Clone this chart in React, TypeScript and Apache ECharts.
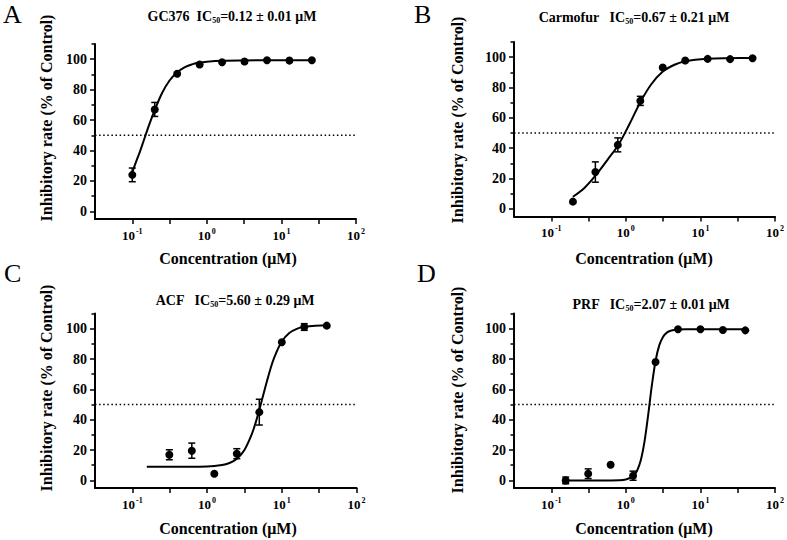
import React, { useEffect, useRef } from "react";
import * as echarts from "echarts";

// ---------- axis values ----------
const X_MIN = 0.031622776601683794; // 10^-1.5
const X_MAX = 100;
const xTickValues = [0.1, 0.31622776601683794, 1, 3.1622776601683795, 10, 31.622776601683793, 100];
const xLabelValues = [0.1, 1, 10, 100];
const yMajorValues = [0, 20, 40, 60, 80, 100];
const yMinorValues = [10, 30, 50, 70, 90, 110];
const halfInhibition = 50;

// ---------- texts ----------
const panelLetters = ["A", "B", "C", "D"];
const drugNames = ["GC376  ", "Carmofur   ", "ACF   ", "PRF   "];
const ic50Texts = ["=0.12 ± 0.01 μM", "=0.67 ± 0.21 μM", "=5.60 ± 0.29 μM", "=2.07 ± 0.01 μM"];
const yAxisName = "Inhibitory rate (% of Control)";
const xAxisName = "Concentration (μM)";

// ---------- Panel A: GC376 ----------
const concA = [0.1, 0.2, 0.4, 0.8, 1.6, 3.2, 6.4, 12.8, 25.6];
const meanA = [24, 67, 90.5, 96.5, 98, 98.5, 99.3, 99.1, 99.3];
const errA = [4.5, 4.6, 0, 0, 0, 0, 0, 0, 0];
const fitXA = [0.1, 0.112, 0.126, 0.141, 0.158, 0.178, 0.2, 0.251, 0.316, 0.398, 0.501, 0.631, 0.794, 1, 1.585, 3.162, 10, 25.6];
const fitYA = [25.8, 32.4, 38.9, 45.9, 53.1, 60.1, 66.6, 77.8, 86.0, 91.3, 94.7, 96.6, 97.8, 98.4, 99.0, 99.2, 99.3, 99.3];

// ---------- Panel B: Carmofur ----------
const concB = [0.195, 0.39, 0.78, 1.5625, 3.125, 6.25, 12.5, 25, 50];
const meanB = [4.8, 24.3, 42.2, 71.2, 93.2, 97.8, 98.9, 98.7, 99.3];
const errB = [0, 6.7, 4.6, 3, 0, 0, 0, 0, 0];
const fitXB = [0.195, 0.28, 0.4, 0.57, 0.8, 1.12, 1.57, 2.18, 3.13, 4.49, 6.3, 12.5, 25, 50];
const fitYB = [8, 14, 22.5, 32.5, 42.5, 56, 70.5, 82, 90.5, 95, 97.3, 98.9, 99.3, 99.5];

// ---------- Panel C: ACF ----------
const concC = [0.3125, 0.625, 1.25, 2.5, 5, 10, 20, 40];
const meanC = [16.9, 19.6, 4.4, 17.6, 45, 91, 101.1, 102];
const errC = [3.3, 5, 0, 3.3, 8.5, 0, 2.2, 0];
const fitXC = [0.156, 0.316, 1, 1.585, 1.995, 2.512, 3.162, 3.981, 4.467, 5.012, 5.623, 6.31, 7.079, 7.943, 10, 12.59, 15.85, 19.95, 28.18, 40];
const fitYC = [9.0, 9.0, 9.2, 10.1, 11.5, 14.3, 20.1, 30.7, 38.1, 46.7, 56.0, 65.2, 73.8, 81.1, 91.5, 97.1, 99.9, 101.2, 102.0, 102.2];

// ---------- Panel D: PRF ----------
const concD = [0.156, 0.3125, 0.625, 1.25, 2.5, 5, 10, 20, 40];
const meanD = [0, 4.4, 10.3, 3.1, 78, 99.6, 99.6, 99.1, 98.9];
const errD = [2.2, 3.2, 0, 3, 0, 0, 0, 0, 0];
const fitXD = [0.156, 0.316, 0.631, 1, 1.259, 1.413, 1.585, 1.778, 1.995, 2.239, 2.512, 2.818, 3.162, 3.548, 3.981, 5.012, 6.31, 10, 19.95, 40];
const fitYD = [0, 0, 0, 0.6, 3.0, 6.4, 13.3, 25.6, 43.4, 63.1, 79.2, 89.3, 94.7, 97.4, 98.6, 99.4, 99.6, 99.6, 99.6, 99.6];

const panels = [
  { conc: concA, mean: meanA, err: errA, fitX: fitXA, fitY: fitYA },
  { conc: concB, mean: meanB, err: errB, fitX: fitXB, fitY: fitYB },
  { conc: concC, mean: meanC, err: errC, fitX: fitXC, fitY: fitYC },
  { conc: concD, mean: meanD, err: errD, fitX: fitXD, fitY: fitYD },
];

const FONT = "Liberation Serif, serif";
const BLACK = "#000000";

// layout
const gridBoxes = [
  { left: 95, top: 44, width: 261, height: 175 },
  { left: 514, top: 42, width: 261.5, height: 174.5 },
  { left: 95, top: 313.5, width: 261.5, height: 174.5 },
  { left: 514, top: 313.5, width: 261.5, height: 174.5 },
];
const titlePos = [[232, 16], [634, 17], [235, 300], [651, 304]];
const yNamePos = [[46, 118], [457, 120], [46, 388], [457, 390]];
const xNamePos = [[228, 258], [644, 258], [228, 528], [644, 528]];
const letterPos = [[3, 14], [414, 14], [4, 273], [417, 273]];

function buildOption() {
  const grid: any[] = [];
  const xAxis: any[] = [];
  const yAxis: any[] = [];
  const series: any[] = [];
  const graphic: any[] = [];

  panels.forEach((p, i) => {
    grid.push({ ...gridBoxes[i], containLabel: false });
    xAxis.push({
      type: "log",
      logBase: 10,
      gridIndex: i,
      min: X_MIN,
      max: X_MAX,
      axisLine: { show: true, onZero: false, lineStyle: { color: BLACK, width: 2 } },
      axisTick: { show: true, customValues: xTickValues, length: 5, lineStyle: { color: BLACK, width: 1.5 } },
      axisLabel: {
        customValues: xLabelValues,
        margin: 8,
        color: BLACK,
        fontFamily: FONT,
        fontWeight: "bold",
        fontSize: 13,
        formatter: (v: number) => `{b|10}{s|${Math.round(Math.log10(v))}}`,
        rich: {
          b: { fontFamily: FONT, fontWeight: "bold", fontSize: 13, color: BLACK },
          s: { fontFamily: FONT, fontWeight: "bold", fontSize: 8, color: BLACK, padding: [0, 0, 8, 1] },
        },
      },
      splitLine: { show: false },
      minorTick: { show: false },
    });
    const yBase = {
      type: "value",
      gridIndex: i,
      position: "left",
      offset: 0,
      min: -5,
      max: 110,
      splitLine: { show: false },
    };
    yAxis.push({
      ...yBase,
      axisLine: { show: true, onZero: false, lineStyle: { color: BLACK, width: 2 } },
      axisTick: { show: true, customValues: yMajorValues, length: 5, lineStyle: { color: BLACK, width: 1.5 } },
      axisLabel: {
        customValues: yMajorValues,
        margin: 8,
        color: BLACK,
        fontFamily: FONT,
        fontWeight: "bold",
        fontSize: 14,
      },
    });
    yAxis.push({
      ...yBase,
      axisLine: { show: false, onZero: false },
      axisTick: { show: true, customValues: yMinorValues, length: 3.5, lineStyle: { color: BLACK, width: 1.5 } },
      axisLabel: { show: false },
    });

    // 50% dotted reference line
    series.push({
      type: "line",
      xAxisIndex: i,
      yAxisIndex: 2 * i,
      data: [[X_MIN, halfInhibition], [X_MAX, halfInhibition]],
      symbol: "none",
      lineStyle: { color: BLACK, width: 1.5, type: [1.5, 2.6] },
      silent: true,
      z: 1,
    });
    // fitted curve
    series.push({
      type: "line",
      xAxisIndex: i,
      yAxisIndex: 2 * i,
      data: p.fitX.map((x, k) => [x, p.fitY[k]]),
      symbol: "none",
      smooth: 0.35,
      lineStyle: { color: BLACK, width: 2 },
      silent: true,
      z: 2,
    });
    // error bars
    series.push({
      type: "custom",
      xAxisIndex: i,
      yAxisIndex: 2 * i,
      data: p.conc.map((x, k) => [x, p.mean[k], p.err[k]]).filter((d) => d[2] > 0),
      renderItem: (params: any, api: any) => {
        const x = api.value(0);
        const y = api.value(1);
        const e = api.value(2);
        const top = api.coord([x, y + e]);
        const bot = api.coord([x, y - e]);
        const hw = 3.5;
        const style = { stroke: BLACK, lineWidth: 1.5, fill: null };
        return {
          type: "group",
          children: [
            { type: "line", shape: { x1: top[0], y1: top[1], x2: bot[0], y2: bot[1] }, style },
            { type: "line", shape: { x1: top[0] - hw, y1: top[1], x2: top[0] + hw, y2: top[1] }, style },
            { type: "line", shape: { x1: bot[0] - hw, y1: bot[1], x2: bot[0] + hw, y2: bot[1] }, style },
          ],
        };
      },
      silent: true,
      z: 3,
    });
    // data points
    series.push({
      type: "scatter",
      xAxisIndex: i,
      yAxisIndex: 2 * i,
      data: p.conc.map((x, k) => [x, p.mean[k]]),
      symbol: "circle",
      symbolSize: 8,
      itemStyle: { color: BLACK, opacity: 1 },
      silent: true,
      z: 4,
    });

    // panel letter
    graphic.push({
      type: "text",
      x: letterPos[i][0],
      y: letterPos[i][1],
      style: {
        text: panelLetters[i],
        fontFamily: FONT,
        fontSize: 26,
        fill: BLACK,
        align: "left",
        verticalAlign: "middle",
      },
    });
    // panel title with IC50 subscript
    graphic.push({
      type: "text",
      x: titlePos[i][0],
      y: titlePos[i][1],
      style: {
        text: `{t|${drugNames[i]}IC}{s|50}{t|${ic50Texts[i]}}`,
        rich: {
          t: { fontFamily: FONT, fontWeight: "bold", fontSize: 14, fill: BLACK, color: BLACK },
          s: { fontFamily: FONT, fontWeight: "bold", fontSize: 8, fill: BLACK, color: BLACK, padding: [8, 0, 0, 0] },
        },
        fontFamily: FONT,
        fontWeight: "bold",
        fontSize: 14,
        fill: BLACK,
        align: "center",
        verticalAlign: "middle",
      },
    });
    // y axis name
    graphic.push({
      type: "text",
      x: yNamePos[i][0],
      y: yNamePos[i][1],
      rotation: Math.PI / 2,
      style: {
        text: yAxisName,
        fontFamily: FONT,
        fontWeight: "bold",
        fontSize: 16,
        fill: BLACK,
        align: "center",
        verticalAlign: "middle",
      },
    });
    // x axis name
    graphic.push({
      type: "text",
      x: xNamePos[i][0],
      y: xNamePos[i][1],
      style: {
        text: xAxisName,
        fontFamily: FONT,
        fontWeight: "bold",
        fontSize: 16,
        fill: BLACK,
        align: "center",
        verticalAlign: "middle",
      },
    });
  });

  return {
    animation: false,
    backgroundColor: "#fff",
    grid,
    xAxis,
    yAxis,
    series,
    graphic,
  };
}

export default function App() {
  const ref = useRef<HTMLDivElement>(null);
  useEffect(() => {
    if (!ref.current) return;
    const chart = echarts.init(ref.current, null, { renderer: "svg" });
    chart.setOption(buildOption() as any);
    return () => chart.dispose();
  }, []);
  return (
    <div
      ref={ref}
      style={{ position: "fixed", left: 0, top: 0, width: 787, height: 540, background: "#fff" }}
    />
  );
}
